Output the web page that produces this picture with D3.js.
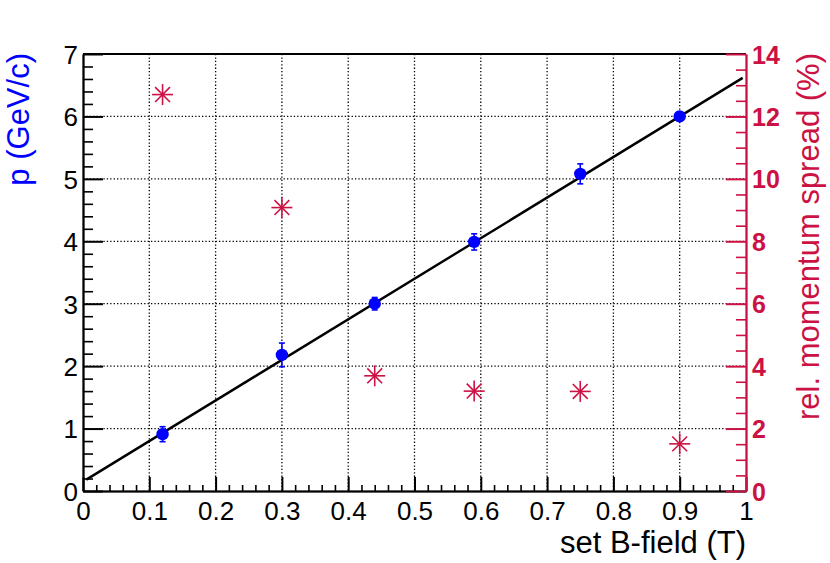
<!DOCTYPE html>
<html>
<head>
<meta charset="utf-8">
<script src="https://cdn.jsdelivr.net/npm/d3@7"></script>
<style>
  html, body { margin: 0; padding: 0; background: #fff; }
  svg { display: block; font-family: "Liberation Sans", Arial, Helvetica, sans-serif; }
</style>
</head>
<body>
<svg id="chart" width="830" height="563"></svg>
<script>
// ---- data ----
const bField      = [0.12, 0.30, 0.44, 0.59, 0.75, 0.90];
const momentum    = [0.91, 2.18, 3.00, 3.99, 5.08, 6.00];
const momentumErr = [0.12, 0.19, 0.10, 0.13, 0.16, 0.07];
const spread      = [12.70, 9.08, 3.69, 3.20, 3.19, 1.51];
const fitParams   = [0.15, 6.5];        // intercept, slope
const fitRange    = [0.005, 0.995];
const xTicks      = [0, 0.1, 0.2, 0.3, 0.4, 0.5, 0.6, 0.7, 0.8, 0.9, 1];
const yTicks      = [0, 1, 2, 3, 4, 5, 6, 7];
const y2Ticks     = [0, 2, 4, 6, 8, 10, 12, 14];

const RED = "#cc1144", BLUE = "#0000ff";
const svg = d3.select("#chart");
const L = 83, R = 746, T = 54, B = 491;
const x  = d3.scaleLinear().domain([0, 1]).range([L, R]);
const y  = d3.scaleLinear().domain([0, 7]).range([B, T]);
const y2 = d3.scaleLinear().domain([0, 14]).range([B, T]);

const minor = (ticks, n) => {
  const out = [];
  for (let i = 0; i < ticks.length - 1; i++) {
    const a = ticks[i], b = ticks[i + 1];
    for (let k = 1; k < n; k++) out.push(a + (b - a) * k / n);
  }
  return out;
};

// grid
const grid = svg.append("g").attr("stroke", "#000").attr("stroke-width", 1.3)
  .attr("stroke-dasharray", "1.3,2.1");
xTicks.filter(v => v > 0 && v < 1).forEach(v =>
  grid.append("line").attr("x1", x(v)).attr("x2", x(v)).attr("y1", T).attr("y2", B));
yTicks.filter(v => v > 0 && v < 7).forEach(v =>
  grid.append("line").attr("x1", L).attr("x2", R).attr("y1", y(v)).attr("y2", y(v)));

// frame top
svg.append("line").attr("x1", L).attr("x2", R).attr("y1", T).attr("y2", T)
  .attr("stroke", "#000").attr("stroke-width", 2);

function styleAxis(g, color, width) {
  g.selectAll("path.domain").attr("stroke", color).attr("stroke-width", width);
  g.selectAll(".tick line").attr("stroke", color).attr("stroke-width", width);
}
const fmtX = d => String(+(+d).toFixed(1));
const fmtI = d => String(Math.round(d));

// x axis
const gx = svg.append("g").attr("transform", `translate(0,${B})`);
gx.call(d3.axisBottom(x).tickValues(minor(xTicks, 5)).tickSize(-6).tickSizeOuter(0).tickFormat(""));
const gx2 = svg.append("g").attr("transform", `translate(0,${B})`);
gx2.call(d3.axisBottom(x).tickValues(xTicks).tickSize(-14).tickSizeOuter(0).tickPadding(11).tickFormat(fmtX));
styleAxis(gx, "#000", 1.6); styleAxis(gx2, "#000", 2);
gx2.selectAll("text").attr("font-size", 26).attr("fill", "#000")
  .attr("font-family", "Liberation Sans, Arial, sans-serif").attr("dy", "0.71em");

// left axis
const gy = svg.append("g").attr("transform", `translate(${L},0)`);
gy.call(d3.axisLeft(y).tickValues(minor(yTicks, 5)).tickSize(-10).tickSizeOuter(0).tickFormat(""));
const gy2 = svg.append("g").attr("transform", `translate(${L},0)`);
gy2.call(d3.axisLeft(y).tickValues(yTicks).tickSize(-20).tickSizeOuter(0).tickPadding(5).tickFormat(fmtI));
styleAxis(gy, "#000", 1.6); styleAxis(gy2, "#000", 2);
gy2.selectAll("text").attr("font-size", 26).attr("fill", "#000")
  .attr("font-family", "Liberation Sans, Arial, sans-serif").attr("dy", "0.36em");

// right axis
const gr = svg.append("g").attr("transform", `translate(${R},0)`);
gr.call(d3.axisRight(y2).tickValues(minor(y2Ticks, 4)).tickSize(-10).tickSizeOuter(0).tickFormat(""));
const gr2 = svg.append("g").attr("transform", `translate(${R},0)`);
gr2.call(d3.axisRight(y2).tickValues(y2Ticks).tickSize(-20).tickSizeOuter(0).tickPadding(6).tickFormat(fmtI));
styleAxis(gr, RED, 1.6); styleAxis(gr2, RED, 2);
gr2.selectAll("text").attr("font-size", 25).attr("font-weight", "bold").attr("fill", RED)
  .attr("font-family", "Liberation Sans, Arial, sans-serif").attr("dy", "0.36em");

// fit line
const line = d3.line().x(d => x(d)).y(d => y(fitParams[0] + fitParams[1] * d));
svg.append("path").datum(fitRange).attr("d", line)
  .attr("fill", "none").attr("stroke", "#000").attr("stroke-width", 2.4);

// error bars + points
const pts = bField.map((b, i) => ({ b, p: momentum[i], e: momentumErr[i], s: spread[i] }));
const eb = svg.append("g").attr("stroke", BLUE).attr("stroke-width", 1.6);
pts.forEach(d => {
  eb.append("line").attr("x1", x(d.b)).attr("x2", x(d.b)).attr("y1", y(d.p - d.e)).attr("y2", y(d.p + d.e));
  [d.p - d.e, d.p + d.e].forEach(v =>
    eb.append("line").attr("x1", x(d.b) - 3).attr("x2", x(d.b) + 3).attr("y1", y(v)).attr("y2", y(v)));
});
svg.append("g").selectAll("circle").data(pts).join("circle")
  .attr("cx", d => x(d.b)).attr("cy", d => y(d.p)).attr("r", 6.2).attr("fill", BLUE);

// stars (spread, right axis)
const st = svg.append("g").attr("stroke", RED).attr("stroke-width", 1.6);
const arm = 10.5, dg = arm * Math.SQRT1_2;
pts.forEach(d => {
  const cx = x(d.b), cy = y2(d.s);
  [[arm, 0], [0, arm], [dg, dg], [dg, -dg]].forEach(([dx, dy]) =>
    st.append("line").attr("x1", cx - dx).attr("x2", cx + dx).attr("y1", cy - dy).attr("y2", cy + dy));
});

// titles
svg.append("text").attr("transform", `translate(28.5,${T - 1}) rotate(-90)`)
  .attr("text-anchor", "end").attr("font-size", 31).attr("fill", BLUE).text("p (GeV/c)");
svg.append("text").attr("transform", `translate(818.5,${T - 1}) rotate(-90)`)
  .attr("text-anchor", "end").attr("font-size", 31).attr("fill", RED).text("rel. momentum spread (%)");
svg.append("text").attr("x", R).attr("y", 553).attr("text-anchor", "end")
  .attr("font-size", 31).attr("fill", "#000").text("set B-field (T)");
</script>
</body>
</html>
